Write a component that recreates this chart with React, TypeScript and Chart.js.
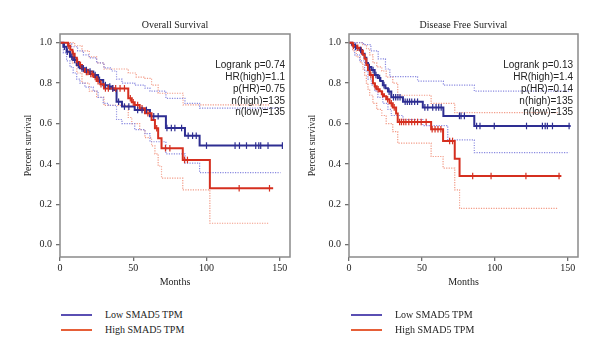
import React, { useEffect, useRef } from "react";
import { Chart, registerables } from "chart.js";
Chart.register(...registerables);

// ---------- data ----------
const xTicks = [0, 50, 100, 150];
const yTicks = [0, 0.2, 0.4, 0.6, 0.8, 1.0];
const legendLabels = ["Low SMAD5 TPM", "High SMAD5 TPM"];
const osTitle = "Overall Survival";
const dfsTitle = "Disease Free Survival";
const osStats = ["Logrank p=0.74", "HR(high)=1.1", "p(HR)=0.75", "n(high)=135", "n(low)=135"];
const dfsStats = ["Logrank p=0.13", "HR(high)=1.4", "p(HR)=0.14", "n(high)=135", "n(low)=135"];

// Overall survival – low group
const osLowTime = [0, 2.3, 4.5, 6.8, 9, 11.4, 13.6, 17, 19.3, 22.7, 26, 29.5, 33, 35, 37, 38.6, 42.3, 51, 61.4, 72.3, 85.3, 95.3, 152];
const osLowSurv = [1, 0.98, 0.955, 0.93, 0.915, 0.89, 0.873, 0.865, 0.857, 0.84, 0.816, 0.79, 0.783, 0.774, 0.766, 0.708, 0.684, 0.667, 0.636, 0.578, 0.54, 0.491, 0.491];
const osLowCensor = [3, 5, 8, 10, 12.5, 15, 16, 18, 20.5, 24, 27, 31, 34, 36, 40, 44, 47, 53, 56, 59, 64, 67, 73, 76, 78.4, 83, 87.5, 90.5, 93, 100, 119.5, 122.5, 127.3, 133.6, 135.7, 137, 142, 151.8];
const osLowUpTime = [0, 4, 8, 12, 16, 20, 25, 30, 35, 38.6, 42.3, 51, 58, 61.4, 72.3, 85.3, 95.3, 150.5];
const osLowUp = [1, 0.995, 0.98, 0.96, 0.94, 0.925, 0.9, 0.875, 0.86, 0.82, 0.8, 0.79, 0.775, 0.76, 0.725, 0.7, 0.676, 0.676];
const osLowLoTime = [0, 2.3, 4.5, 6.8, 9, 11.4, 13.6, 17, 22.7, 26, 29.5, 33, 38.6, 42.3, 51, 58, 61.4, 72.3, 85.3, 95.3, 150.5];
const osLowLo = [1, 0.95, 0.91, 0.88, 0.85, 0.82, 0.8, 0.78, 0.76, 0.73, 0.7, 0.69, 0.62, 0.6, 0.57, 0.55, 0.51, 0.45, 0.404, 0.357, 0.357];

// Overall survival – high group
const osHighTime = [0, 5.5, 7, 8.5, 10, 11.5, 13, 15, 17, 20, 23, 25, 27.5, 30, 46.6, 49, 51, 54.4, 58, 62.5, 64.8, 67, 69.3, 83.8, 102.3, 145.5];
const osHighSurv = [1, 0.985, 0.965, 0.945, 0.925, 0.905, 0.89, 0.87, 0.855, 0.845, 0.83, 0.81, 0.795, 0.774, 0.725, 0.705, 0.692, 0.676, 0.651, 0.618, 0.577, 0.527, 0.478, 0.42, 0.28, 0.28];
const osHighCensor = [6, 9, 12, 14, 16, 18, 19, 21, 22, 24, 26, 28, 31, 33, 36, 38, 41, 44, 48, 50, 53, 56, 60, 66, 72, 75, 85, 87, 122.3, 143];
const osHighUpTime = [0, 5.5, 10, 15, 20, 25, 30, 46.6, 52, 58, 62.5, 67, 84, 143];
const osHighUp = [1, 1, 0.985, 0.96, 0.93, 0.9, 0.87, 0.85, 0.83, 0.824, 0.79, 0.75, 0.692, 0.692];
const osHighLoTime = [0, 5.5, 8.5, 11.5, 15, 20, 25, 30, 46.6, 49, 54.4, 58, 62.5, 64.8, 67, 69.3, 83.8, 102.3, 143];
const osHighLo = [1, 0.95, 0.9, 0.85, 0.8, 0.76, 0.73, 0.69, 0.63, 0.6, 0.57, 0.53, 0.49, 0.45, 0.39, 0.33, 0.272, 0.107, 0.107];

// Disease free survival – low group
const dfsLowTime = [0, 2, 3.9, 5.5, 7.3, 9, 10.7, 11.9, 13, 15.3, 17.6, 19.8, 21.5, 23.2, 25, 26.7, 29, 37, 50.6, 64.7, 85.9, 152];
const dfsLowSurv = [1, 0.99, 0.98, 0.972, 0.964, 0.945, 0.925, 0.9, 0.88, 0.865, 0.84, 0.825, 0.81, 0.79, 0.775, 0.758, 0.73, 0.708, 0.68, 0.638, 0.588, 0.588];
const dfsLowCensor = [4.5, 8, 14, 16.5, 18.5, 21, 24, 27.5, 30.5, 32, 33.5, 35, 38.5, 40, 41.5, 43, 45, 47, 52, 54, 57.4, 59.7, 61.5, 63.2, 75.7, 76.8, 79.1, 87.5, 89.8, 99.6, 121.7, 132.6, 134.5, 136, 139.5, 150.9];
const dfsLowUpTime = [0, 5, 10, 15, 20, 25, 28, 47, 64.7, 85.9, 150.9];
const dfsLowUp = [1, 1, 0.99, 0.96, 0.92, 0.87, 0.832, 0.81, 0.79, 0.76, 0.76];
const dfsLowLoTime = [0, 3.9, 7.3, 10.7, 13, 15.3, 17.6, 19.8, 23.2, 26.7, 29, 37, 50.6, 67.7, 85.9, 150.9];
const dfsLowLo = [1, 0.94, 0.91, 0.86, 0.82, 0.79, 0.76, 0.73, 0.7, 0.67, 0.64, 0.62, 0.59, 0.519, 0.456, 0.456];

// Disease free survival – high group
const dfsHighTime = [0, 2.5, 5, 7.8, 9.5, 10.7, 11.9, 13, 14.2, 16.4, 17.6, 19, 21, 22.5, 24, 25.5, 27.8, 30, 32.3, 33.4, 56.3, 64.5, 72.5, 75.8, 145.6];
const dfsHighSurv = [1, 0.985, 0.975, 0.96, 0.94, 0.92, 0.89, 0.865, 0.84, 0.8, 0.785, 0.77, 0.76, 0.745, 0.735, 0.72, 0.7, 0.68, 0.65, 0.608, 0.572, 0.514, 0.426, 0.341, 0.341];
const dfsHighCensor = [3, 6, 8.5, 15, 18, 20, 23, 26.5, 29, 31, 34.7, 36, 37.5, 39, 41, 43, 45, 47, 49.5, 52.9, 57, 59, 61, 63, 69, 71, 84.8, 97.4, 121.3, 144];
const dfsHighUpTime = [0, 5, 9.5, 12, 14.2, 16.4, 19, 22.5, 25.5, 30, 33.4, 56.3, 72.5, 143];
const dfsHighUp = [1, 1, 0.99, 0.97, 0.94, 0.9, 0.88, 0.86, 0.83, 0.8, 0.74, 0.7, 0.654, 0.654];
const dfsHighLoTime = [0, 2.5, 5, 7.8, 9.5, 10.7, 11.9, 13, 14.2, 16.4, 19, 22.5, 25.5, 30, 33.4, 56.3, 64.5, 72.5, 75.8, 143];
const dfsHighLo = [1, 0.96, 0.93, 0.9, 0.87, 0.84, 0.8, 0.77, 0.74, 0.7, 0.67, 0.64, 0.6, 0.56, 0.503, 0.437, 0.38, 0.272, 0.181, 0.181];

// ---------- styles ----------
const SERIF = "'Liberation Serif', 'DejaVu Serif', serif";
const SANS = "'Liberation Sans', Arial, sans-serif";
const BLUE = "#2e2e92";
const RED = "#d52f1f";
const BLUE_CI = "#8a8ae0";
const RED_CI = "#f29a86";
const LEG_BLUE = "#5a4fb3";
const LEG_RED = "#e65f38";

type Panel = {
  title: string;
  stats: string[];
  lowT: number[]; lowS: number[]; lowC: number[];
  lowUpT: number[]; lowUp: number[]; lowLoT: number[]; lowLo: number[];
  highT: number[]; highS: number[]; highC: number[];
  highUpT: number[]; highUp: number[]; highLoT: number[]; highLo: number[];
  yTitleOff: number;
  padRight: number;
};

const stepAt = (t: number[], s: number[], x: number) => {
  let v = s[0];
  for (let i = 0; i < t.length; i++) if (t[i] <= x) v = s[i];
  return v;
};
const pts = (t: number[], s: number[]) => t.map((x, i) => ({ x, y: s[i] }));

function makeConfig(p: Panel): any {
  const censor = (t: number[], s: number[], c: number[], color: string) => ({
    data: c.map((x) => ({ x, y: stepAt(t, s, x) })),
    showLine: false,
    pointStyle: "line",
    pointRotation: 90,
    pointRadius: 3.3,
    pointBorderWidth: 1.2,
    pointBorderColor: color,
    borderColor: color,
    pointHoverRadius: 0,
  });
  const solid = (t: number[], s: number[], color: string) => ({
    data: pts(t, s),
    stepped: true,
    borderColor: color,
    borderWidth: 2,
    pointRadius: 0,
    fill: false,
  });
  const dotted = (t: number[], s: number[], color: string) => ({
    data: pts(t, s),
    stepped: true,
    borderColor: color,
    borderWidth: 1.2,
    borderDash: [1.2, 1.3],
    pointRadius: 0,
    fill: false,
  });
  const decor = {
    id: "decor",
    afterDraw(chart: any) {
      const { ctx, chartArea: a } = chart;
      ctx.save();
      ctx.strokeStyle = "#8a8a8a";
      ctx.lineWidth = 1.5;
      ctx.strokeRect(a.left, a.top, a.right - a.left, a.bottom - a.top);
      ctx.fillStyle = "#222";
      ctx.textAlign = "center";
      ctx.textBaseline = "middle";
      ctx.font = `10px ${SERIF}`;
      const cx = (a.left + a.right) / 2;
      ctx.fillText(p.title, cx, 25.7);
      ctx.fillText("Months", cx, 282);
      ctx.save();
      ctx.translate(a.left - p.yTitleOff, (a.top + a.bottom) / 2);
      ctx.rotate(-Math.PI / 2);
      ctx.font = `9.5px ${SERIF}`;
      ctx.fillText("Percent survival", 0, 0);
      ctx.restore();
      ctx.font = `10px ${SANS}`;
      ctx.textAlign = "right";
      p.stats.forEach((s, i) => ctx.fillText(s, a.right - 5, 65.7 + i * 11.7));
      ctx.restore();
    },
  };
  return {
    type: "line",
    data: {
      datasets: [
        censor(p.lowT, p.lowS, p.lowC, BLUE),
        censor(p.highT, p.highS, p.highC, RED),
        solid(p.highT, p.highS, RED),
        solid(p.lowT, p.lowS, BLUE),
        dotted(p.lowUpT, p.lowUp, BLUE_CI),
        dotted(p.lowLoT, p.lowLo, BLUE_CI),
        dotted(p.highUpT, p.highUp, RED_CI),
        dotted(p.highLoT, p.highLo, RED_CI),
      ],
    },
    options: {
      responsive: false,
      animation: false,
      events: [],
      layout: { padding: { top: 34, right: p.padRight, left: 0, bottom: 0 } },
      plugins: { legend: { display: false }, tooltip: { enabled: false }, title: { display: false } },
      scales: {
        x: {
          type: "linear",
          min: 0,
          max: 157,
          afterBuildTicks: (s: any) => { s.ticks = xTicks.map((v) => ({ value: v })); },
          afterFit: (s: any) => { s.height = 43; },
          border: { display: false },
          grid: { display: true, drawOnChartArea: false, drawTicks: true, tickLength: 4, color: "#707070", lineWidth: 1.3 },
          ticks: { font: { family: SERIF, size: 10 }, color: "#222", padding: 1, maxRotation: 0, autoSkip: false, callback: (v: any) => String(v) },
        },
        y: {
          type: "linear",
          min: -0.06,
          max: 1.043,
          afterBuildTicks: (s: any) => { s.ticks = yTicks.map((v) => ({ value: v })); },
          afterFit: (s: any) => { s.width = 60; },
          border: { display: false },
          grid: { display: true, drawOnChartArea: false, drawTicks: true, tickLength: 4, color: "#707070", lineWidth: 1.3 },
          ticks: { font: { family: SERIF, size: 10 }, color: "#222", padding: 4, autoSkip: false, callback: (v: any) => Number(v).toFixed(1) },
        },
      },
    },
    plugins: [decor],
  };
}

const osPanel: Panel = {
  title: osTitle, stats: osStats,
  lowT: osLowTime, lowS: osLowSurv, lowC: osLowCensor,
  lowUpT: osLowUpTime, lowUp: osLowUp, lowLoT: osLowLoTime, lowLo: osLowLo,
  highT: osHighTime, highS: osHighSurv, highC: osHighCensor,
  highUpT: osHighUpTime, highUp: osHighUp, highLoT: osHighLoTime, highLo: osHighLo,
  yTitleOff: 32, padRight: 10,
};
const dfsPanel: Panel = {
  title: dfsTitle, stats: dfsStats,
  lowT: dfsLowTime, lowS: dfsLowSurv, lowC: dfsLowCensor,
  lowUpT: dfsLowUpTime, lowUp: dfsLowUp, lowLoT: dfsLowLoTime, lowLo: dfsLowLo,
  highT: dfsHighTime, highS: dfsHighSurv, highC: dfsHighCensor,
  highUpT: dfsHighUpTime, highUp: dfsHighUp, highLoT: dfsHighLoTime, highLo: dfsHighLo,
  yTitleOff: 37, padRight: 11,
};

function ChartPanel({ panel, left }: { panel: Panel; left: number }) {
  const ref = useRef<HTMLCanvasElement>(null);
  useEffect(() => {
    const chart = new Chart(ref.current as HTMLCanvasElement, makeConfig(panel));
    return () => chart.destroy();
  }, [panel]);
  return (
    <canvas
      ref={ref}
      width={300}
      height={300}
      style={{ position: "absolute", left, top: 0, width: 300, height: 300 }}
    />
  );
}

function Legend({ left }: { left: number }) {
  const colors = [LEG_BLUE, LEG_RED];
  return (
    <>
      {legendLabels.map((lab, i) => (
        <div key={lab} style={{ position: "absolute", left, top: 309 + i * 15, height: 12, width: 200 }}>
          <div style={{ position: "absolute", left: 0, top: 5, width: 31, height: 2, background: colors[i] }} />
          <div style={{ position: "absolute", left: 44, top: 0, lineHeight: "12px", fontFamily: SERIF, fontSize: 10, color: "#222", whiteSpace: "nowrap" }}>
            {lab}
          </div>
        </div>
      ))}
    </>
  );
}

export default function App() {
  return (
    <div style={{ position: "absolute", left: 0, top: 0, width: 600, height: 357, background: "#fff", overflow: "hidden" }}>
      <ChartPanel panel={osPanel} left={0} />
      <ChartPanel panel={dfsPanel} left={289} />
      <Legend left={61} />
      <Legend left={351} />
    </div>
  );
}
